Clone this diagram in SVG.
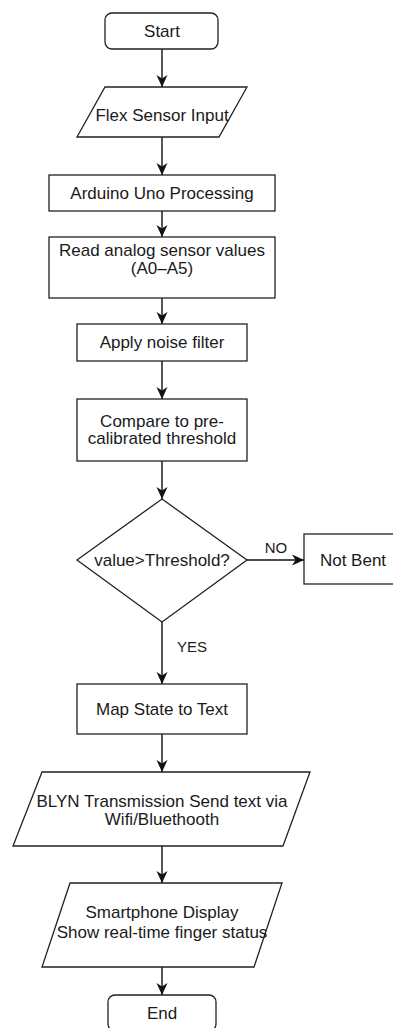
<svg xmlns="http://www.w3.org/2000/svg" width="393" height="1028" viewBox="0 0 393 1028">
<style>
.s{fill:#fff;stroke:#222;stroke-width:1.3}
.t{font-family:"Liberation Sans",Arial,sans-serif;font-size:17px;fill:#1a1a1a;text-anchor:middle}
.l{font-family:"Liberation Sans",Arial,sans-serif;font-size:15px;fill:#1a1a1a;text-anchor:middle}
.c{fill:none;stroke:#111;stroke-width:1.4}
</style>
<defs>
<marker id="arr" viewBox="0 0 12 12" refX="12" refY="6" markerWidth="12" markerHeight="12" markerUnits="userSpaceOnUse" orient="auto">
<path d="M0,0.5 L12,6 L0,11.5 L3.5,6 z" fill="#111"/>
</marker>
</defs>
<rect width="393" height="1028" fill="#fff"/>
<g id="connectors">
<path class="c" marker-end="url(#arr)" d="M162,49 V87"/>
<path class="c" marker-end="url(#arr)" d="M162,137 V175"/>
<path class="c" marker-end="url(#arr)" d="M162,211 V237"/>
<path class="c" marker-end="url(#arr)" d="M162,298 V324"/>
<path class="c" marker-end="url(#arr)" d="M162,361 V399"/>
<path class="c" marker-end="url(#arr)" d="M162,461 V499"/>
<path class="c" marker-end="url(#arr)" d="M247,560 H304"/>
<path class="c" marker-end="url(#arr)" d="M162,622 V684"/>
<path class="c" marker-end="url(#arr)" d="M162,734 V772"/>
<path class="c" marker-end="url(#arr)" d="M162,846 V883"/>
<path class="c" marker-end="url(#arr)" d="M162,967 V995"/>
<text class="l" x="276" y="553">NO</text>
<text class="l" x="192" y="652">YES</text>
</g>
<g id="start"><rect class="s" x="105" y="13" width="113" height="36" rx="7"/><text class="t" x="162" y="37">Start</text></g>
<g id="flex"><polygon class="s" points="105,87 247,87 219,137 77,137"/><text class="t" x="162" y="121">Flex Sensor Input</text></g>
<g id="arduino"><rect class="s" x="49" y="175" width="226" height="36"/><text class="t" x="162" y="199">Arduino Uno Processing</text></g>
<g id="read"><rect class="s" x="49" y="237" width="226" height="61"/><text class="t" x="162" y="256">Read analog sensor values</text><text class="t" x="162" y="274">(A0–A5)</text></g>
<g id="filter"><rect class="s" x="77" y="324" width="170" height="37"/><text class="t" x="162" y="348">Apply noise filter</text></g>
<g id="compare"><rect class="s" x="77" y="399" width="170" height="62"/><text class="t" x="162" y="427">Compare to pre-</text><text class="t" x="162" y="444">calibrated threshold</text></g>
<g id="decision"><polygon class="s" points="162,499 247,560 162,622 77,560"/><text class="t" x="162" y="566">value&gt;Threshold?</text></g>
<g id="notbent"><rect class="s" x="304" y="534" width="100" height="50"/><text class="t" x="353" y="566">Not Bent</text></g>
<g id="map"><rect class="s" x="77" y="684" width="170" height="50"/><text class="t" x="162" y="715">Map State to Text</text></g>
<g id="blyn"><polygon class="s" points="42,772 310,772 283,846 13,846"/><text class="t" x="162" y="807">BLYN Transmission Send text via</text><text class="t" x="162" y="825">Wifi/Bluethooth</text></g>
<g id="smartphone"><polygon class="s" points="70,883 282,883 254,967 42,967"/><text class="t" x="162" y="918">Smartphone Display</text><text class="t" x="162" y="938">Show real-time finger status</text></g>
<g id="end"><rect class="s" x="108" y="995" width="108" height="36" rx="7"/><text class="t" x="162" y="1019">End</text></g>
</svg>
